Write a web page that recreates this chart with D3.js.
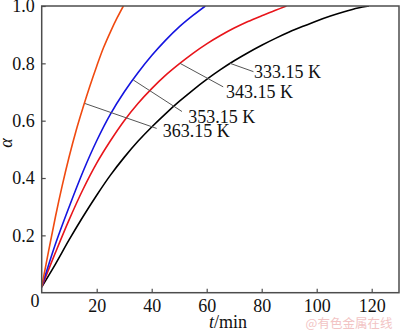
<!DOCTYPE html>
<html><head><meta charset="utf-8">
<script src="https://cdn.jsdelivr.net/npm/d3@7"></script>
</head><body style="margin:0">
<svg id="c" width="400" height="332" font-family="Liberation Serif" style="font-family:'Liberation Serif'"></svg>
<script>
const xTicks = [20, 40, 60, 80, 100, 120];
const yTicks = [0.2, 0.4, 0.6, 0.8, 1.0];
const tempLabels = ["333.15 K", "343.15 K", "353.15 K", "363.15 K"];
const colors = ["#000000", "#e8151b", "#1515e0", "#f04a10"];

const t333 = [0,5,10,15,20,25,30,35,40,45,50,55,60,65,70,75,80,85,90,95,100,105,110,115,119];
const a333 = [0.02,0.10,0.185,0.265,0.34,0.41,0.472,0.528,0.578,0.624,0.667,0.707,0.744,0.778,0.809,0.837,0.863,0.887,0.909,0.929,0.948,0.965,0.98,0.993,1.0];
const t343 = [0,5,10,15,20,25,30,35,40,45,50,55,60,65,70,75,80,85,89];
const a343 = [0.02,0.14,0.255,0.36,0.452,0.53,0.60,0.66,0.712,0.758,0.798,0.835,0.868,0.897,0.923,0.946,0.966,0.985,1.0];
const t353 = [0,5,10,15,20,25,30,35,40,45,50,55,59.5];
const a353 = [0.02,0.17,0.30,0.422,0.53,0.623,0.70,0.767,0.827,0.88,0.927,0.967,1.0];
const t363 = [0,2.5,5,7.5,10,12.5,15,17.5,20,22.5,25,27.5,29.7];
const a363 = [0.02,0.145,0.265,0.375,0.475,0.565,0.645,0.72,0.79,0.855,0.91,0.96,1.0];

// leader line anchor (on curve: t, alpha), line end and label positions (t, alpha)
const labelAnchorT = [68.5, 50.3, 33.3, 15.7];
const labelAnchorA = [0.80, 0.80, 0.742, 0.66];
const labelEndT = [77, 66, 51, 41.8];
const labelEndA = [0.771, 0.718, 0.632, 0.573];
const labelTextT = [77.2, 67, 53.3, 44];
const labelTextA = [0.77, 0.70, 0.615, 0.565];

const F = '"Liberation Serif"';
const svg = d3.select("#c");
const L = 41.7, R = 399, T = 6, B = 292.7;
const x = d3.scaleLinear().domain([0, 130]).range([L, L + 2.75 * 130]);
const y = d3.scaleLinear().domain([0, 1]).range([B, T]);
const frameColor = "#4d4d4d";

// text first
const gText = svg.append("g");

// leader lines and labels
tempLabels.forEach((lab, i) => {
  gText.append("text").attr("x", x(labelTextT[i])).attr("y", y(labelTextA[i])).attr("dy", "0.35em")
    .style("font-family", F).style("font-size", "18px").attr("fill", "#111").text(lab);
});

svg.append("defs").append("clipPath").attr("id", "clip")
  .append("rect").attr("x", L).attr("y", T).attr("width", R - L).attr("height", B - T);

const series = [[t333, a333], [t343, a343], [t353, a353], [t363, a363]];
const line = d3.line().x(d => x(d[0])).y(d => y(d[1])).curve(d3.curveCatmullRom.alpha(0.5));
series.forEach((s, i) => {
  const pts = s[0].map((t, j) => [t, s[1][j]]);
  svg.append("path").attr("d", line(pts)).attr("fill", "none")
    .attr("stroke", colors[i]).attr("stroke-width", 1.6).attr("clip-path", "url(#clip)");
});

tempLabels.forEach((lab, i) => {
  svg.append("line").attr("x1", x(labelAnchorT[i])).attr("y1", y(labelAnchorA[i]))
    .attr("x2", x(labelEndT[i])).attr("y2", y(labelEndA[i]))
    .attr("stroke", "#555").attr("stroke-width", 1);
});

// axes
const xAxis = d3.axisBottom(x).tickValues(xTicks).tickSize(-4).tickPadding(9).tickFormat(d3.format("d"));
const gx = svg.append("g").attr("transform", `translate(0,${B})`).call(xAxis);
const yAxis = d3.axisLeft(y).tickValues(yTicks).tickSize(-4).tickPadding(7).tickFormat(d3.format(".1f"));
const gy = svg.append("g").attr("transform", `translate(${L},0)`).call(yAxis);
[gx, gy].forEach(g => {
  g.attr("font-family", "Liberation Serif").attr("font-size", 18);
  g.select(".domain").remove();
  g.selectAll(".tick line").attr("stroke", frameColor).attr("stroke-width", 1.2);
  g.selectAll(".tick text").style("font-family", F).style("font-size", "18px").attr("fill", "#111");
});
gx.selectAll(".tick text").attr("dy", "0.71em").attr("y", 7);

// frame
svg.append("rect").attr("x", L).attr("y", T).attr("width", R - L).attr("height", B - T)
  .attr("fill", "none").attr("stroke", frameColor).attr("stroke-width", 1.5);

// origin label
svg.append("text").attr("x", 35).attr("y", 307).attr("text-anchor", "middle")
  .style("font-family", F).style("font-size", "18px").attr("fill", "#111").text("0");

// axis titles
svg.append("text").attr("transform", "translate(12,143) rotate(-90)").attr("text-anchor", "middle")
  .style("font-family", F).style("font-size", "18px").style("font-style", "italic").attr("fill", "#111").text("α");
const xt = svg.append("text").attr("x", 228).attr("y", 328).attr("text-anchor", "middle")
  .style("font-family", F).style("font-size", "18px").attr("fill", "#111");
xt.append("tspan").style("font-style", "italic").text("t");
xt.append("tspan").text("/min");

// watermark
svg.append("text").attr("x", 349).attr("y", 328).attr("text-anchor", "middle")
  .style("font-family", '"Noto Sans CJK SC"').style("font-size", "12.5px").attr("fill", "#f2c4c4").text("@有色金属在线");
</script>
</body></html>
